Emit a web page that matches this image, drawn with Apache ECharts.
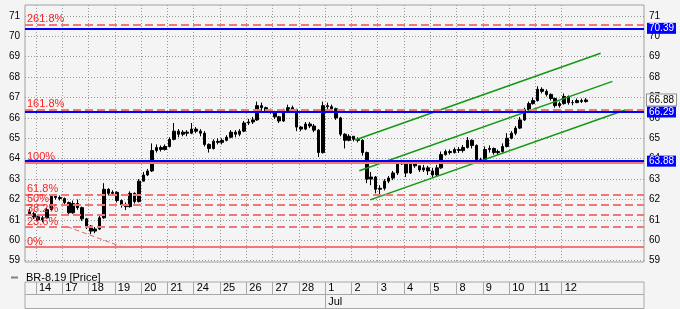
<!DOCTYPE html>
<html><head><meta charset="utf-8">
<script src="https://cdn.jsdelivr.net/npm/echarts@6/dist/echarts.min.js"></script>
<style>html,body{margin:0;padding:0;background:#f4f4f4}#c{width:680px;height:309px}</style>
</head><body><div id="c"></div>
<script>
// ---- data ----
const seriesName = 'BR-8.19 [Price]';
const dayLabels = ['14','17','18','19','20','21','24','25','26','27','28','1','2','3','4','5','8','9','10','11','12'];
const monthLabels = [{day: 11, text: 'Jul'}];
const yTicks = [59,60,61,62,63,64,65,66,67,68,69,70,71];
const BARS_PER_DAY = 6;
// [dayIndex, slot, open, close, low, high]
const bars = [
 [-1,4,61.40,61.30,61.20,61.55],[-1,5,61.30,61.15,61.05,61.40],
 [0,0,61.15,61.00,60.95,61.25],[0,1,61.00,61.10,60.88,61.20],[0,2,61.10,61.50,61.05,61.60],[0,3,61.50,62.15,61.45,62.25],[0,4,62.15,62.10,62.00,62.25],[0,5,62.10,62.05,61.95,62.20],
 [1,0,62.05,61.85,61.75,62.10],[1,1,61.85,61.35,61.22,61.90],[1,2,61.35,61.80,61.30,61.95],[1,3,61.80,61.60,61.50,62.00],[1,4,61.60,61.05,60.95,61.65],[1,5,61.05,60.70,60.55,61.10],
 [2,0,60.70,60.45,60.30,60.75],[2,1,60.45,60.55,60.35,60.65],[2,2,60.55,61.10,60.50,61.20],[2,3,61.10,62.50,61.05,62.80],[2,4,62.50,62.30,62.20,62.55],[2,5,62.30,62.35,62.20,62.45],
 [3,0,62.35,61.95,61.85,62.40],[3,1,61.95,61.75,61.60,62.00],[3,2,61.75,61.65,61.48,61.85],[3,3,61.65,62.30,61.60,62.40],[3,4,62.30,61.90,61.80,62.35],[3,5,61.90,62.90,61.85,63.00],
 [4,0,62.90,63.20,62.95,63.35],[4,1,63.20,63.40,63.15,63.50],[4,2,63.40,64.40,63.35,64.75],[4,3,64.40,64.55,64.30,64.70],[4,4,64.55,64.45,64.35,64.65],[4,5,64.45,64.60,64.40,64.70],
 [5,0,64.60,64.95,64.55,65.05],[5,1,64.95,65.35,64.90,65.75],[5,2,65.35,65.20,65.05,65.45],[5,3,65.20,65.30,65.10,65.40],[5,4,65.30,65.25,65.10,65.40],[5,5,65.25,65.45,65.20,65.75],
 [6,0,65.45,65.35,65.25,65.55],[6,1,65.35,65.25,65.10,65.45],[6,2,65.25,64.70,64.60,65.35],[6,3,64.70,64.50,64.30,64.75],[6,4,64.50,64.85,64.45,64.95],[6,5,64.85,64.80,64.70,65.00],
 [7,0,64.80,64.90,64.70,65.00],[7,1,64.90,65.05,64.85,65.15],[7,2,65.05,65.30,65.00,65.40],[7,3,65.30,65.20,65.05,65.40],[7,4,65.20,65.35,65.10,65.45],[7,5,65.35,65.75,65.30,65.85],
 [8,0,65.75,65.80,65.65,65.95],[8,1,65.80,65.90,65.70,66.05],[8,2,65.90,66.60,65.85,66.80],[8,3,66.60,66.50,66.35,66.75],[8,4,66.50,66.35,66.25,66.55],[8,5,66.35,66.30,66.20,66.45],
 [9,0,66.30,66.05,65.95,66.35],[9,1,66.05,65.85,65.75,66.10],[9,2,65.85,66.35,65.80,66.45],[9,3,66.35,66.50,66.25,66.65],[9,4,66.50,66.40,66.30,66.60],[9,5,66.40,65.55,65.35,66.45],
 [10,0,65.55,65.45,65.35,65.60],[10,1,65.45,65.70,65.40,65.80],[10,2,65.70,65.60,65.50,65.80],[10,3,65.60,65.40,65.30,65.70],[10,4,65.40,64.30,64.08,65.45],[10,5,64.30,66.60,64.25,66.80],
 [11,0,66.60,66.55,66.40,66.75],[11,1,66.55,66.45,66.35,66.65],[11,2,66.45,66.00,65.90,66.50],[11,3,66.00,65.20,65.10,66.05],[11,4,65.20,64.90,64.50,65.25],[11,5,64.90,65.10,64.85,65.20],
 [12,0,65.10,64.95,64.85,65.10],[12,1,64.95,64.90,64.80,65.05],[12,2,64.90,64.30,64.15,64.95],[12,3,64.30,63.00,62.80,64.35],[12,4,63.00,63.10,62.70,63.35],[12,5,63.10,62.50,62.30,63.15],
 [13,0,62.50,62.55,62.25,62.70],[13,1,62.55,62.90,62.45,63.00],[13,2,62.90,63.05,62.80,63.15],[13,3,63.05,63.30,62.95,63.40],[13,4,63.30,63.75,63.20,63.85],[13,5,63.75,63.85,63.70,63.95],
 [14,0,63.85,63.30,63.10,63.90],[14,1,63.30,63.80,63.25,63.90],[14,2,63.80,63.65,63.55,63.85],[14,3,63.65,63.45,63.35,63.65],[14,4,63.45,63.55,63.35,63.70],[14,5,63.55,63.40,63.20,63.65],
 [15,0,63.40,63.20,63.05,63.55],[15,1,63.20,63.55,63.15,63.70],[15,2,63.55,64.20,63.50,64.35],[15,3,64.20,64.35,64.15,64.45],[15,4,64.35,64.30,64.20,64.45],[15,5,64.30,64.45,64.25,64.55],
 [16,0,64.45,64.40,64.28,64.57],[16,1,64.40,64.55,64.30,64.67],[16,2,64.55,64.90,64.50,65.06],[16,3,64.90,64.65,64.50,64.95],[16,4,64.65,63.95,63.85,64.70],[16,5,63.95,63.95,63.85,64.05],
 [17,0,63.95,64.45,63.90,64.60],[17,1,64.45,64.50,64.30,64.65],[17,2,64.50,64.30,64.20,64.55],[17,3,64.30,64.35,64.18,64.45],[17,4,64.35,64.60,64.30,64.75],[17,5,64.60,65.00,64.55,65.25],
 [18,0,65.00,65.25,64.95,65.35],[18,1,65.25,65.50,65.15,65.60],[18,2,65.50,65.90,65.45,66.05],[18,3,65.90,66.40,65.85,66.50],[18,4,66.40,66.70,66.35,66.80],[18,5,66.70,66.85,66.65,67.00],
 [19,0,66.85,67.40,66.80,67.55],[19,1,67.40,67.30,67.20,67.50],[19,2,67.30,67.15,67.05,67.40],[19,3,67.15,66.95,66.85,67.20],[19,4,66.95,66.60,66.50,67.00],[19,5,66.60,66.70,66.50,66.80],
 [20,0,66.70,67.05,66.65,67.20],[20,1,67.05,66.75,66.65,67.10],[20,2,66.75,66.75,66.62,66.88],[20,3,66.75,66.85,66.72,66.95],[20,4,66.85,66.80,66.73,66.95],[20,5,66.80,66.88,66.75,66.97]
];
const blueLevels = [70.39, 66.29, 63.88];
const fibNames  = ['261.8%','161.8%','100%','61.8%','50%','38.2%','23.6%','0%'];
const fibValues = [70.57, 66.39, 63.82, 62.23, 61.74, 61.25, 60.64, 59.66];
const lastPrice = 66.88;
const channelUpper  = [[12.14, 64.92], [21.48, 69.17]];
const channelMiddle = [[12.30, 63.41], [21.93, 67.79]];
const channelLower  = [[12.71, 61.98], [22.41, 66.39]];
const fibTrend = [[1.18, 60.67], [3.31, 59.66]];

// ---- chart ----
const X_MIN = -0.4185, X_MAX = 23.13;
const Y_MIN = 58.936, Y_MAX = 71.534;
const FONT = 'Liberation Sans';
const dayStarts = dayLabels.map((_, i) => i);
const candleData = bars.map(b => [b[0] + (b[1] + 0.5) / BARS_PER_DAY, b[2], b[3], b[4], b[5]]);
const gridLine = {show: true, lineStyle: {color: '#9a9a9a', type: [1, 2], width: 1}};

const fibMarks = fibNames.map((n, i) => {
  const solid = (n === '0%' || n === '100%');
  return {
    yAxis: fibValues[i],
    lineStyle: {color: '#f07878', width: 2, type: solid ? 'solid' : [8, 4]},
    label: {show: true, formatter: n, position: 'insideStartTop', distance: [2, 0],
            color: '#ff2020', fontSize: 11, fontFamily: FONT}
  };
});
const blueMarks = blueLevels.map(v => ({
  yAxis: v,
  lineStyle: {color: '#0000ff', width: 2, type: 'solid'},
  label: {show: true, position: 'end', distance: 3, formatter: v.toFixed(2),
          color: '#ffffff', backgroundColor: '#0000ff', padding: [1, 2, 0, 2],
          fontSize: 10, fontFamily: FONT}
}));
const lastMark = {
  yAxis: lastPrice,
  lineStyle: {color: 'rgba(0,0,0,0)', width: 0},
  label: {show: true, position: 'end', distance: 3, formatter: lastPrice.toFixed(2),
          color: '#000', backgroundColor: '#f8f8f8', borderColor: '#909090', borderWidth: 1,
          padding: [1, 2, 0, 2], fontSize: 10, fontFamily: FONT}
};

const greenLine = (d) => ({
  type: 'line', data: d, xAxisIndex: 0, yAxisIndex: 0, symbol: 'none', z: 4,
  lineStyle: {color: '#119911', width: 1.5}, silent: true, animation: false
});

const option = {
  backgroundColor: '#f4f4f4',
  animation: false,
  textStyle: {fontFamily: FONT},
  legend: {
    left: 6, top: 267, itemWidth: 7, itemHeight: 2, itemGap: 4,
    data: [{name: seriesName, icon: 'rect', itemStyle: {color: '#808080', borderWidth: 0}}],
    textStyle: {fontSize: 11, color: '#000', fontFamily: FONT, padding: [0, 0, 0, 3]}
  },
  grid: [
    {left: 25, right: 36, top: 5, height: 257, show: true, borderColor: '#a0a0a0', borderWidth: 1, backgroundColor: 'transparent'},
    {left: 25, right: 36, top: 282, height: 12.5, show: true, borderColor: '#a8a8a8', borderWidth: 1, backgroundColor: 'transparent'},
    {left: 25, right: 36, top: 294.5, height: 14, show: true, borderColor: '#a8a8a8', borderWidth: 1, backgroundColor: 'transparent'}
  ],
  xAxis: [
    {type: 'value', gridIndex: 0, min: X_MIN, max: X_MAX,
     axisLine: {show: false}, axisTick: {show: false, customValues: dayStarts},
     axisLabel: {show: false}, splitLine: gridLine},
    {type: 'value', gridIndex: 1, position: 'top', min: X_MIN, max: X_MAX,
     axisLine: {show: false}, axisTick: {show: false, customValues: dayStarts},
     axisLabel: {show: true, customValues: dayStarts, inside: true, align: 'left', verticalAlign: 'middle',
                 margin: 6, padding: [0, 0, 0, 3], fontSize: 11, color: '#000', fontFamily: FONT,
                 formatter: v => dayLabels[Math.round(v)] ?? ''},
     splitLine: {show: true, lineStyle: {color: '#a8a8a8', width: 1, type: 'solid'}}},
    {type: 'value', gridIndex: 2, position: 'top', min: X_MIN, max: X_MAX,
     axisLine: {show: false}, axisTick: {show: false, customValues: monthLabels.map(m => m.day)},
     axisLabel: {show: true, customValues: monthLabels.map(m => m.day), inside: true, align: 'left', verticalAlign: 'middle',
                 margin: 7, padding: [0, 0, 0, 3], fontSize: 11, color: '#000', fontFamily: FONT,
                 formatter: v => (monthLabels.find(m => m.day === Math.round(v)) || {}).text || ''},
     splitLine: {show: true, lineStyle: {color: '#a8a8a8', width: 1, type: 'solid'}}}
  ],
  yAxis: [
    {type: 'value', gridIndex: 0, position: 'left', min: Y_MIN, max: Y_MAX,
     axisLine: {show: false}, axisTick: {show: false, customValues: yTicks},
     axisLabel: {customValues: yTicks, margin: 5, fontSize: 10, color: '#000', fontFamily: FONT},
     splitLine: gridLine},
    {type: 'value', gridIndex: 0, position: 'right', min: Y_MIN, max: Y_MAX,
     axisLine: {show: false}, axisTick: {show: false, customValues: yTicks},
     axisLabel: {customValues: yTicks, margin: 5, fontSize: 10, color: '#000', fontFamily: FONT},
     splitLine: {show: false}},
    {type: 'value', gridIndex: 1, show: false, min: 0, max: 1},
    {type: 'value', gridIndex: 2, show: false, min: 0, max: 1}
  ],
  series: [
    {
      type: 'line', name: 'levels', data: [], xAxisIndex: 0, yAxisIndex: 0, z: 1, silent: true,
      markLine: {silent: true, symbol: ['none', 'none'], animation: false,
                 data: [...fibMarks, ...blueMarks, lastMark]}
    },
    {
      type: 'line', name: 'fibtrend', data: fibTrend, xAxisIndex: 0, yAxisIndex: 0, symbol: 'none', z: 2,
      lineStyle: {color: '#f06060', width: 1, type: [5, 3]}, silent: true
    },
    {
      type: 'candlestick', name: seriesName, data: candleData, xAxisIndex: 0, yAxisIndex: 0, z: 3,
      encode: {x: 0, y: [1, 2, 3, 4]}, barWidth: 3,
      itemStyle: {color: '#000', color0: '#000', borderColor: '#000', borderColor0: '#000', borderWidth: 1}
    },
    greenLine(channelUpper), greenLine(channelMiddle), greenLine(channelLower)
  ]
};
echarts.init(document.getElementById('c'), null, {renderer: 'canvas'}).setOption(option);
</script></body></html>
